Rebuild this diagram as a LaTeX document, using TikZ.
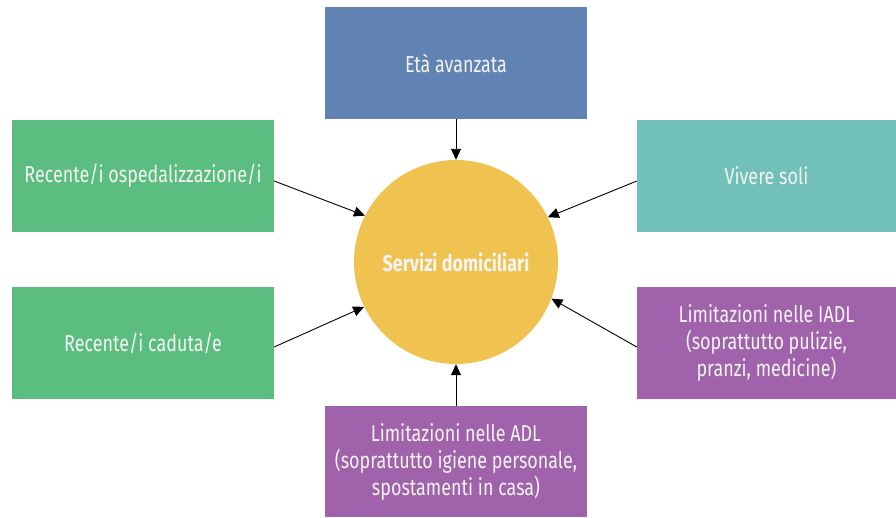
\documentclass[tikz,border=0pt]{standalone}
\usepackage{fontspec}
\setmainfont{Fira Sans}[FakeStretch=0.78]
\usetikzlibrary{arrows.meta}
\definecolor{blueBox}{RGB}{96,131,180}
\definecolor{greenBox}{RGB}{91,190,128}
\definecolor{tealBox}{RGB}{114,192,186}
\definecolor{purpleBox}{RGB}{160,98,170}
\definecolor{yellowCirc}{RGB}{240,195,80}
\definecolor{txt}{RGB}{244,244,244}
\tikzset{
  box/.style={minimum width=262pt, minimum height=112pt, inner sep=0pt, text=txt,
    align=center, font=\fontsize{23}{27}\selectfont},
  conn/.style={-{Triangle[length=11pt,width=10pt]}, line width=0.9pt}
}
\begin{document}
\begin{tikzpicture}[x=1pt,y=-1pt]
    \useasboundingbox[fill=white](0,0) rectangle (896,517);
    % causes round the centre
    \node[box,fill=blueBox] (eta) at (456,63) {Età avanzata};
    \node[box,fill=greenBox] (osp) at (143,176) {Recente/i ospedalizzazione/i};
    \node[box,fill=greenBox] (cad) at (143,343) {Recente/i caduta/e};
    \node[box,fill=tealBox,minimum width=259pt] (soli) at (766.5,176) {Vivere soli};
    \node[box,fill=purpleBox,minimum width=259pt] (iadl) at (766.5,343) {Limitazioni nelle IADL\\(soprattutto pulizie,\\pranzi, medicine)};
    \node[box,fill=purpleBox,minimum height=111pt] (adl) at (456,461.5) {Limitazioni nelle ADL\\(soprattutto igiene personale,\\spostamenti in casa)};
    \node[circle,fill=yellowCirc,minimum size=204pt,inner sep=0pt,text=txt,
      font=\fontsize{23}{27}\selectfont\bfseries] (serv) at (456,262) {Servizi domiciliari};
    % arrows
    \draw[conn] (eta.south) -- (serv.north);
    \draw[conn] ([yshift=-5pt]osp.east) -- (serv.153);
    \draw[conn] ([yshift=-4pt]cad.east) -- (serv.206);
    \draw[conn] ([yshift=-5pt]soli.west) -- (serv.26);
    \draw[conn] ([yshift=-4pt]iadl.west) -- (serv.339);
    \draw[conn] (adl.north) -- (serv.south);
\end{tikzpicture}
\end{document}
